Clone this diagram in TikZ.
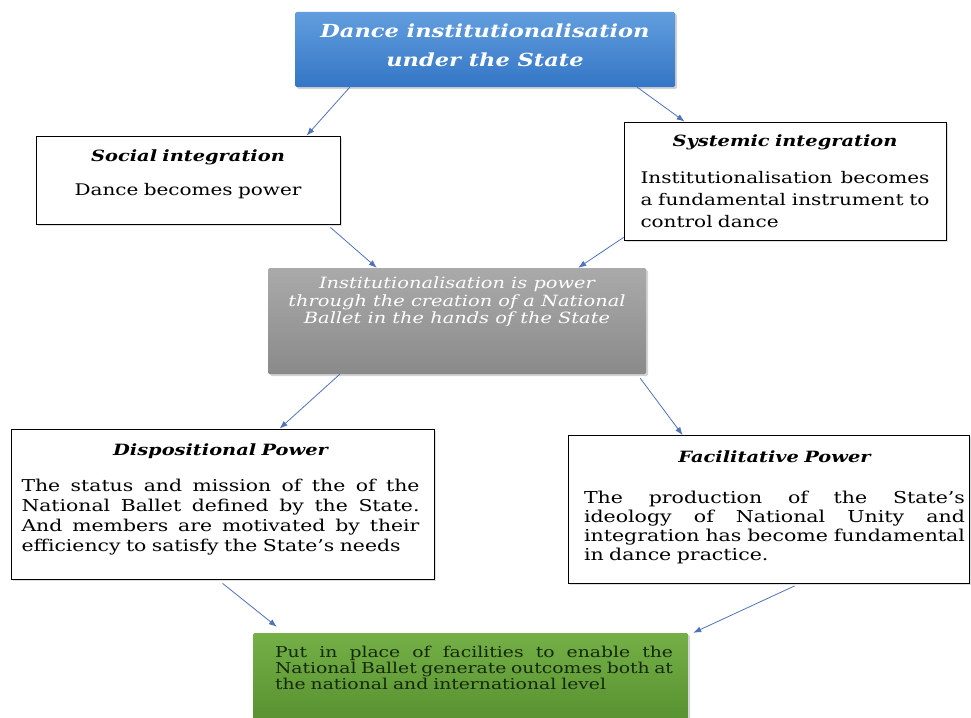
\documentclass[tikz,border=0pt]{standalone}
\usepackage{fontspec}
\setmainfont[FakeStretch=1.25]{DejaVu Serif}
\usetikzlibrary{positioning,arrows.meta,shadows}
\setlength{\parindent}{0pt}
\definecolor{flowblue}{RGB}{79,114,184}
\definecolor{headtop}{RGB}{98,158,222}
\definecolor{headbot}{RGB}{52,118,198}
\definecolor{greytop}{RGB}{170,170,170}
\definecolor{greybot}{RGB}{138,138,138}
\definecolor{greentop}{RGB}{116,176,70}
\definecolor{greenbot}{RGB}{86,144,48}
\definecolor{greenink}{RGB}{22,40,12}
\newcommand{\jline}[1]{\makebox[\hsize][s]{\spaceskip=0pt\xspaceskip=0pt #1}\\}
\newcommand{\lastline}[1]{\makebox[\hsize][l]{#1}}
\newcommand{\boxhead}[1]{\makebox[\hsize]{\fontsize{15.5}{19}\selectfont\bfseries\itshape #1}}
\tikzset{
  plainbox/.style={draw=black, line width=0.8pt, fill=white, inner sep=0pt,
    drop shadow={shadow xshift=1.5pt, shadow yshift=-1.5pt, opacity=0.25}},
  shadebox/.style={inner sep=0pt, rounded corners=1.5pt,
    drop shadow={shadow xshift=2pt, shadow yshift=-2pt, opacity=0.35}},
  bodytext/.style={inner sep=0pt, align=left},
  flow/.style={draw=flowblue, line width=0.8pt, -{Latex[length=8pt,width=6pt]}}
}
\begin{document}
\begin{tikzpicture}[x=1pt,y=-1pt]
  \useasboundingbox (0,0) rectangle (971,717);

  % boxes
  \node[shadebox, top color=headtop, bottom color=headbot,
    minimum width=380pt, minimum height=75pt] (head) at (485,49.5) {};
  \node[plainbox, minimum width=304pt, minimum height=88pt] (social) at (188,180) {};
  \node[plainbox, minimum width=322pt, minimum height=118pt] (systemic) at (785,181) {};
  \node[shadebox, top color=greytop, bottom color=greybot,
    minimum width=378pt, minimum height=106pt] (inst) at (457,321) {};
  \node[plainbox, minimum width=423pt, minimum height=150pt] (disp) at (222.5,504) {};
  \node[plainbox, minimum width=401pt, minimum height=148pt] (facil) at (768.5,509.5) {};
  \node[shadebox, top color=greentop, bottom color=greenbot,
    minimum width=435pt, minimum height=92pt] (outcome) at (470.5,679) {};

  % texts
  \node[inner sep=0pt, align=center, text=white,
    font=\fontsize{18}{29}\selectfont\bfseries\itshape,
    below=12pt of head.north] (headtxt)
    {Dance institutionalisation\\under the State};
  \node[bodytext, text width=280pt, align=center, font=\fontsize{16}{19}\selectfont,
    below=14pt of social.north] (socialtxt)
    {\boxhead{Social integration}\\[15pt]Dance becomes power};
  \node[bodytext, text width=289pt, font=\fontsize{16}{22}\selectfont,
    below=13pt of systemic.north] (systemictxt)
    {\boxhead{Systemic integration}\\[15pt]
     \jline{Institutionalisation becomes}
     \jline{a fundamental instrument to}
     \lastline{control dance}};
  \node[inner sep=0pt, align=center, text=white,
    font=\fontsize{15.5}{17.5}\selectfont\itshape,
    below=9pt of inst.north] (insttxt)
    {Institutionalisation is power\\through the creation of a National\\Ballet in the hands of the State};
  \node[bodytext, text width=398pt, font=\fontsize{16.3}{20}\selectfont,
    below=15pt of disp.north, xshift=-2pt] (disptxt)
    {\boxhead{Dispositional Power}\\[16pt]
     \jline{The status and mission of the of the}
     \jline{National Ballet defined by the State.}
     \jline{And members are motivated by their}
     \lastline{efficiency to satisfy the State's needs}};
  \node[bodytext, text width=381pt, font=\fontsize{16.4}{19}\selectfont,
    below=15pt of facil.north, xshift=6pt] (faciltxt)
    {\boxhead{Facilitative Power}\\[22pt]
     \jline{The production of the State's}
     \jline{ideology of National Unity and}
     \jline{integration has become fundamental}
     \lastline{in dance practice.}};
  \node[bodytext, text width=398pt, text=greenink, font=\fontsize{15}{16}\selectfont,
    below=13pt of outcome.north, xshift=3.5pt] (outcometxt)
    {\jline{Put in place of facilities to enable the}
     \jline{National Ballet generate outcomes both at}
     \lastline{the national and international level}};

  % connectors
  \draw[flow] ([xshift=55pt]head.south west) -- ([xshift=271pt]social.north west);
  \draw[flow] ([xshift=-38pt]head.south east) -- ([xshift=61pt]systemic.north west);
  \draw[flow] ([xshift=-10pt,yshift=-3pt]social.south east) -- ([xshift=109pt]inst.north west);
  \draw[flow] ([yshift=3pt]systemic.south west) -- ([xshift=-68pt]inst.north east);
  \draw[flow] ([xshift=72pt]inst.south west) -- ([xshift=269pt]disp.north west);
  \draw[flow] ([xshift=-6pt,yshift=-4pt]inst.south east) -- ([xshift=115pt]facil.north west);
  \draw[flow] ([xshift=212pt,yshift=-4pt]disp.south west) -- ([xshift=24pt,yshift=6pt]outcome.north west);
  \draw[flow] ([xshift=227pt,yshift=-2pt]facil.south west) -- ([xshift=5pt]outcome.north east);
\end{tikzpicture}
\end{document}
